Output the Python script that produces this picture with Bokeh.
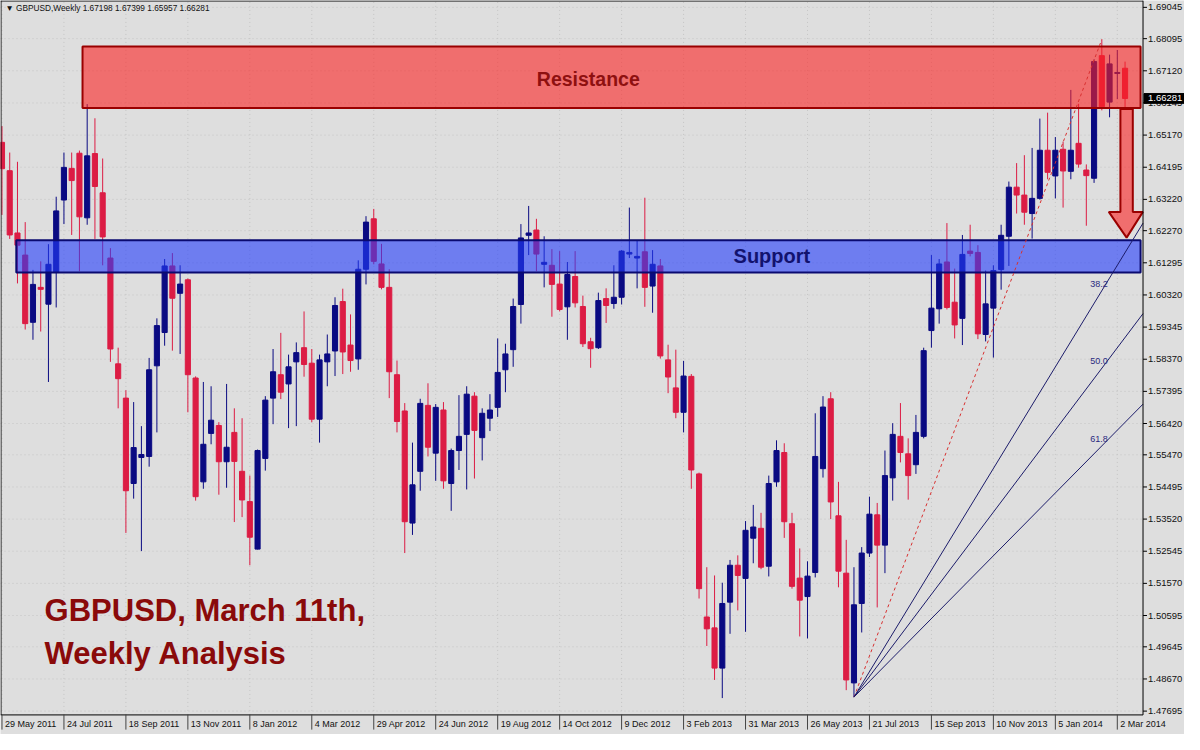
from bokeh.plotting import figure
from bokeh.models import Range1d, ColumnDataSource
from bokeh.core.properties import value
from bokeh.embed import file_html
from bokeh.resources import INLINE

# ---------------- data (weekly GBPUSD, week 0 = 29 May 2011) ----------------
opens = [1.6495, 1.6409, 1.6220, 1.6153, 1.5949, 1.6055, 1.6004, 1.6100, 1.6320, 1.6416,
         1.6462, 1.6266, 1.6461, 1.6342, 1.6144, 1.5823, 1.5719, 1.5460, 1.5539, 1.5542,
         1.5817, 1.5918, 1.6120, 1.6037, 1.6078, 1.5780, 1.5465, 1.5612, 1.5636, 1.5526,
         1.5615, 1.5497, 1.5405, 1.5261, 1.5536, 1.5719, 1.5790, 1.5762, 1.5829, 1.5872,
         1.5825, 1.5655, 1.5829, 1.5862, 1.6012, 1.5880, 1.5838, 1.6110, 1.6263, 1.6126,
         1.6055, 1.5790, 1.5680, 1.5340, 1.5497, 1.5697, 1.5552, 1.5683, 1.5460, 1.5560,
         1.5609, 1.5725, 1.5599, 1.5658, 1.5691, 1.5805, 1.5866, 1.6003, 1.6213, 1.6229,
         1.6125, 1.6122, 1.6065, 1.5996, 1.6088, 1.5997, 1.5890, 1.5872, 1.6021, 1.6006,
         1.6025, 1.6156, 1.6144, 1.6163, 1.6059, 1.6120, 1.5835, 1.5750, 1.5676, 1.5785,
         1.5489, 1.5055, 1.5022, 1.4900, 1.5100, 1.5212, 1.5172, 1.5294, 1.5324, 1.5209,
         1.5465, 1.5554, 1.5338, 1.5173, 1.5117, 1.5190, 1.5505, 1.5717, 1.5362, 1.5188,
         1.4855, 1.5096, 1.5249, 1.5365, 1.5273, 1.5477, 1.5603, 1.5550, 1.5517, 1.5603,
         1.5924, 1.5990, 1.6132, 1.6010, 1.5961, 1.6165, 1.6161, 1.5912, 1.5992, 1.6109,
         1.6210, 1.6359, 1.6335, 1.6279, 1.6325, 1.6471, 1.6393, 1.6474, 1.6407, 1.6492,
         1.6411, 1.6386, 1.6758, 1.6617, 1.6704, 1.67198]
highs = [1.6544, 1.6464, 1.6436, 1.6253, 1.6108, 1.6134, 1.6186, 1.6330, 1.6464, 1.6464,
         1.6470, 1.6611, 1.6568, 1.6446, 1.6174, 1.5872, 1.5743, 1.5707, 1.5634, 1.5841,
         1.5961, 1.6141, 1.6159, 1.6122, 1.6082, 1.5785, 1.5768, 1.5755, 1.5646, 1.5762,
         1.5688, 1.5658, 1.5484, 1.5563, 1.5725, 1.5868, 1.5917, 1.5851, 1.5888, 1.5982,
         1.5868, 1.5851, 1.5912, 1.6025, 1.6051, 1.5973, 1.6137, 1.6271, 1.6293, 1.6187,
         1.6110, 1.5833, 1.5704, 1.5584, 1.5717, 1.5764, 1.5701, 1.5707, 1.5566, 1.5728,
         1.5755, 1.5737, 1.5688, 1.5731, 1.5900, 1.5884, 1.6021, 1.6247, 1.6302, 1.6263,
         1.6210, 1.6171, 1.6165, 1.6132, 1.6165, 1.6030, 1.5902, 1.6039, 1.6052, 1.6122,
         1.6168, 1.6297, 1.6196, 1.6327, 1.6168, 1.6141, 1.5881, 1.5866, 1.5832, 1.5792,
         1.5493, 1.5206, 1.5181, 1.5159, 1.5228, 1.5242, 1.5346, 1.5395, 1.5371, 1.5484,
         1.5591, 1.5582, 1.5371, 1.5263, 1.5224, 1.5673, 1.5725, 1.5737, 1.5465, 1.5289,
         1.5206, 1.5267, 1.5420, 1.5401, 1.5560, 1.5643, 1.5704, 1.5597, 1.5668, 1.5872,
         1.6153, 1.6141, 1.6250, 1.6112, 1.6214, 1.6245, 1.6183, 1.6106, 1.6122, 1.6245,
         1.6376, 1.6432, 1.6456, 1.6478, 1.6567, 1.6585, 1.6511, 1.6497, 1.6654, 1.6612,
         1.6428, 1.6747, 1.6807, 1.6761, 1.6775, 1.67399]
lows = [1.6275, 1.6202, 1.6067, 1.5927, 1.5896, 1.5921, 1.5768, 1.5994, 1.6247, 1.6214,
        1.6104, 1.6245, 1.6202, 1.6122, 1.5829, 1.5688, 1.5310, 1.5414, 1.5255, 1.5511,
        1.5615, 1.5878, 1.5863, 1.5853, 1.5676, 1.5408, 1.5444, 1.5579, 1.5426, 1.5447,
        1.5343, 1.5358, 1.5212, 1.5260, 1.5499, 1.5640, 1.5716, 1.5628, 1.5634, 1.5784,
        1.5646, 1.5584, 1.5755, 1.5786, 1.5792, 1.5799, 1.5805, 1.6064, 1.6125, 1.6049,
        1.5719, 1.5615, 1.5249, 1.5304, 1.5438, 1.5542, 1.5468, 1.5444, 1.5377, 1.5501,
        1.5442, 1.5475, 1.5530, 1.5619, 1.5662, 1.5737, 1.5814, 1.5945, 1.6153, 1.6104,
        1.6055, 1.5966, 1.5982, 1.5896, 1.5994, 1.5874, 1.5811, 1.5868, 1.5947, 1.5990,
        1.6003, 1.6144, 1.6052, 1.5996, 1.5978, 1.5839, 1.5734, 1.5658, 1.5615, 1.5444,
        1.5111, 1.4967, 1.4864, 1.4809, 1.5004, 1.5075, 1.5010, 1.5218, 1.5200, 1.5178,
        1.5450, 1.5295, 1.5141, 1.4996, 1.4990, 1.5175, 1.5478, 1.5352, 1.5145, 1.4833,
        1.4812, 1.5008, 1.5237, 1.5084, 1.5188, 1.5408, 1.5524, 1.5411, 1.5489, 1.5597,
        1.5872, 1.5945, 1.5988, 1.5900, 1.5880, 1.6149, 1.5898, 1.5891, 1.5842, 1.6048,
        1.6120, 1.6279, 1.6245, 1.6203, 1.6321, 1.6383, 1.6325, 1.6297, 1.6383, 1.6418,
        1.6242, 1.6372, 1.6592, 1.6571, 1.6626, 1.65957]
closes = [1.6415, 1.6214, 1.6183, 1.5945, 1.6064, 1.6049, 1.6125, 1.6287, 1.6419, 1.6379,
          1.6269, 1.6454, 1.6361, 1.6208, 1.5868, 1.5778, 1.5438, 1.5569, 1.5548, 1.5805,
          1.5939, 1.6120, 1.6022, 1.6065, 1.5790, 1.5420, 1.5579, 1.5652, 1.5526, 1.5570,
          1.5527, 1.5410, 1.5297, 1.5560, 1.5713, 1.5799, 1.5737, 1.5814, 1.5857, 1.5821,
          1.5655, 1.5835, 1.5853, 1.6000, 1.5859, 1.5833, 1.6110, 1.6253, 1.6134, 1.6055,
          1.5799, 1.5648, 1.5344, 1.5456, 1.5703, 1.5570, 1.5691, 1.5468, 1.5560, 1.5603,
          1.5731, 1.5621, 1.5673, 1.5683, 1.5797, 1.5853, 1.5997, 1.6205, 1.6220, 1.6156,
          1.6131, 1.6064, 1.5988, 1.6094, 1.6008, 1.5884, 1.5869, 1.6015, 1.6000, 1.6025,
          1.6165, 1.6161, 1.6149, 1.6055, 1.6125, 1.5847, 1.5783, 1.5676, 1.5786, 1.5501,
          1.5141, 1.5019, 1.4900, 1.5096, 1.5212, 1.5181, 1.5318, 1.5328, 1.5206, 1.5460,
          1.5560, 1.5344, 1.5148, 1.5106, 1.5179, 1.5542, 1.5692, 1.5404, 1.5194, 1.4864,
          1.5092, 1.5249, 1.5367, 1.5273, 1.5484, 1.5609, 1.5554, 1.5484, 1.5615, 1.5863,
          1.5992, 1.6126, 1.5994, 1.5941, 1.6155, 1.6158, 1.5914, 1.6005, 1.6106, 1.6213,
          1.6359, 1.6335, 1.6283, 1.6325, 1.6471, 1.6404, 1.6471, 1.6408, 1.6471, 1.6429,
          1.6394, 1.6740, 1.6603, 1.6733, 1.6707, 1.66281]

date_labels = ["29 May 2011", "24 Jul 2011", "18 Sep 2011", "13 Nov 2011", "8 Jan 2012",
               "4 Mar 2012", "29 Apr 2012", "24 Jun 2012", "19 Aug 2012", "14 Oct 2012",
               "9 Dec 2012", "3 Feb 2013", "31 Mar 2013", "26 May 2013", "21 Jul 2013",
               "15 Sep 2013", "10 Nov 2013", "5 Jan 2014", "2 Mar 2014"]
weeks_per_label = 8
price_ticks = [1.69045, 1.68095, 1.67120, 1.66145, 1.65170, 1.64195, 1.63220, 1.62270,
               1.61295, 1.60320, 1.59345, 1.58370, 1.57395, 1.56420, 1.55470, 1.54495,
               1.53520, 1.52545, 1.51570, 1.50595, 1.49645, 1.48670, 1.47695]
last_price = 1.66281
header = "\u25bc GBPUSD,Weekly  1.67198 1.67399 1.65957 1.66281"

resistance_band = (1.6599, 1.6786)
resistance_start = 10.4
support_band = (1.6100, 1.6198)
support_start = 1.85
fan_low_week, fan_high_week = 110, 142
fib_levels = [0.382, 0.500, 0.618]
fib_texts = ["38.2", "50.0", "61.8"]
arrow_x = [144.4, 146.0, 146.0, 147.3, 145.2, 142.9, 144.4]
arrow_y = [1.6596, 1.6596, 1.6284, 1.6284, 1.6206, 1.6284, 1.6284]

# ---------------- layout (whole canvas is one data frame) ----------------
XL, XR = -0.191, 152.675          # canvas left / right
YT, YB = 1.69253, 1.46985         # canvas top / bottom
PLOT_R = 147.32                   # price-axis line
PLOT_B = 1.47579                  # time-axis line
PX_X = (XR - XL) / 1200.0         # one reference pixel, x
PX_Y = (YT - YB) / 750.0          # one reference pixel, y

BG = "#dedede"
BULL = "#0a0a82"
BEAR = "#dc1c44"
FONT = value("Liberation Sans")

p = figure(width=1184, height=734, output_backend="svg", toolbar_location=None,
           x_range=Range1d(XL, XR), y_range=Range1d(YB, YT),
           x_axis_location=None, y_axis_location=None,
           min_border_left=0, min_border_right=0, min_border_top=0, min_border_bottom=0)
p.background_fill_color = BG
p.border_fill_color = BG
p.outline_line_color = None
p.grid.visible = False

# grid
xt = [weeks_per_label * j for j in range(len(date_labels))]
p.segment(x0=xt, y0=[PLOT_B] * len(xt), x1=xt, y1=[YT] * len(xt),
          line_color="#c4c4c4", line_dash="1 3", line_width=1)
p.segment(x0=[XL] * len(price_ticks), y0=price_ticks, x1=[PLOT_R] * len(price_ticks),
          y1=price_ticks, line_color="#c4c4c4", line_dash="1 3", line_width=1)

# ---------------- candles ----------------
idx = list(range(len(opens)))
src = ColumnDataSource(dict(
    x=idx, o=opens, h=highs, l=lows, c=closes,
    top=[max(o, c) for o, c in zip(opens, closes)],
    bot=[min(o, c) for o, c in zip(opens, closes)],
    col=[BULL if c >= o else BEAR for o, c in zip(opens, closes)],
))
p.segment(x0="x", y0="h", x1="x", y1="l", color="col", line_width=1, source=src)
p.vbar(x="x", top="top", bottom="bot", width=0.66, fill_color="col", line_color="col",
       line_width=1, source=src)

# ---------------- zones ----------------
p.quad(left=resistance_start, right=PLOT_R - 2.5 * PX_X, bottom=resistance_band[0],
       top=resistance_band[1], fill_color="#fc2323", fill_alpha=0.6,
       line_color="#9a0000", line_width=2)
p.quad(left=support_start, right=PLOT_R - 2.5 * PX_X, bottom=support_band[0],
       top=support_band[1], fill_color="#233cfc", fill_alpha=0.6,
       line_color="#0a0a70", line_width=2)
p.patch(arrow_x, arrow_y, fill_color="#fc2323", fill_alpha=0.6, line_color="#9a0000",
        line_width=2)

# ---------------- Fibonacci fan ----------------
lo_p = lows[fan_low_week]
hi_p = highs[fan_high_week]
p.segment(x0=[fan_low_week], y0=[lo_p], x1=[fan_high_week], y1=[hi_p],
          line_color="#d83030", line_dash="3 3", line_width=1)
fx0, fy0, fx1, fy1, lx, ly = [], [], [], [], [], []
for r in fib_levels:
    lev = hi_p - r * (hi_p - lo_p)
    slope = (lev - lo_p) / (fan_high_week - fan_low_week)
    fx0.append(fan_low_week); fy0.append(lo_p)
    fx1.append(PLOT_R); fy1.append(lo_p + slope * (PLOT_R - fan_low_week))
    lx.append(fan_high_week - 1.5); ly.append(lev + 4 * PX_Y)
p.segment(x0=fx0, y0=fy0, x1=fx1, y1=fy1, line_color="#1c1c6a", line_width=1)
p.text(x=lx, y=ly, text=fib_texts, text_font=FONT, text_font_size="9px",
       text_color="#2a2a80", text_baseline="bottom")

# ---------------- frame & axes ----------------
p.segment(x0=[XL, XL + 0.5 * PX_X, PLOT_R, XL], y0=[YT - 0.5 * PX_Y, YT, YT, PLOT_B],
          x1=[PLOT_R, XL + 0.5 * PX_X, PLOT_R, PLOT_R], y1=[YT - 0.5 * PX_Y, PLOT_B, PLOT_B, PLOT_B],
          line_color="black", line_width=1)
# price axis
p.segment(x0=[PLOT_R] * len(price_ticks), y0=price_ticks,
          x1=[PLOT_R + 4 * PX_X] * len(price_ticks), y1=price_ticks,
          line_color="black", line_width=1)
p.text(x=[PLOT_R + 5 * PX_X] * len(price_ticks), y=price_ticks,
       text=[f"{t:.5f}" for t in price_ticks], text_font=FONT, text_font_size="9.5px",
       text_color="#111111", text_baseline="middle")
# current price box
p.quad(left=PLOT_R + 1 * PX_X, right=XR, bottom=last_price - 5 * PX_Y,
       top=last_price + 5 * PX_Y, fill_color="black", line_color="black")
p.text(x=[PLOT_R + 5 * PX_X], y=[last_price], text=[f"{last_price:.5f}"], text_font=FONT,
       text_font_size="9.5px", text_color="white", text_baseline="middle")
# time axis
p.segment(x0=xt, y0=[PLOT_B] * len(xt), x1=xt, y1=[PLOT_B - 15 * PX_Y] * len(xt),
          line_color="#444444", line_width=1)
p.text(x=[t + 3 * PX_X for t in xt], y=[PLOT_B - 9 * PX_Y] * len(xt), text=date_labels,
       text_font=FONT, text_font_size="9px", text_color="#111111", text_baseline="middle")

# ---------------- texts ----------------
p.text(x=[75.7], y=[sum(resistance_band) / 2 - 1.5 * PX_Y], text=["Resistance"],
       text_align="center", text_baseline="middle", text_font=FONT, text_font_style="bold",
       text_font_size="19.5px", text_color="#8e1010")
p.text(x=[99.4], y=[sum(support_band) / 2], text=["Support"], text_align="center",
       text_baseline="middle", text_font=FONT, text_font_style="bold",
       text_font_size="20px", text_color="#12126e")
p.text(x=[5.5, 5.5], y=[1.5075, 1.4944], text=["GBPUSD, March 11th,", "Weekly Analysis"],
       text_baseline="alphabetic", text_font=FONT, text_font_style="bold",
       text_font_size="31px", text_color="#8a0a0a")
p.text(x=[0.45], y=[YT - 8 * PX_Y], text=[header], text_baseline="middle", text_font=FONT,
       text_font_size="8.3px", text_color="#111111")

open("out.html", "w").write(file_html(p, INLINE))
